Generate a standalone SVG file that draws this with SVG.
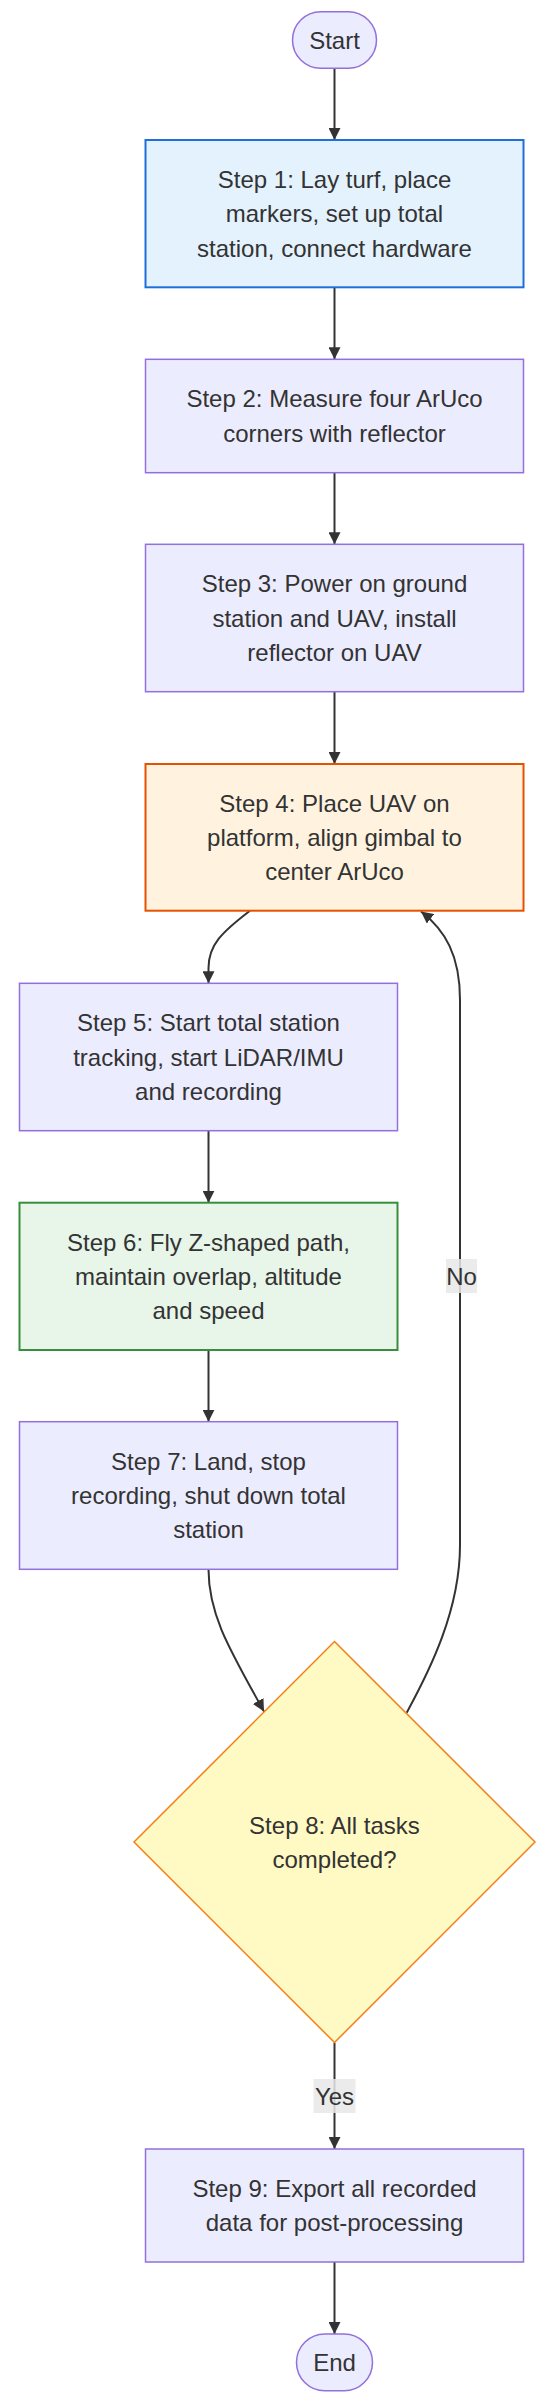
<svg xmlns="http://www.w3.org/2000/svg" width="550" height="2403" viewBox="0 0 550 2403">
<style>
text{font-family:"Liberation Sans",Arial,sans-serif;font-size:24px;fill:#333;text-anchor:middle;dominant-baseline:central}
.def{fill:#ECECFF;stroke:#9370DB;stroke-width:1.5}
.edge{fill:none;stroke:#333;stroke-width:2;marker-end:url(#arr)}
.lbl{fill:#e8e8e8;opacity:0.85}
</style>
<defs>
<marker id="arr" viewBox="0 0 10 10" refX="10" refY="5" markerWidth="12" markerHeight="12" markerUnits="userSpaceOnUse" orient="auto">
<path d="M0,0 L10,5 L0,10 z" fill="#333"/>
</marker>
</defs>
<rect width="550" height="2403" fill="#fff"/>
<g id="connectors">
<path class="edge" d="M334.5,68.3 L334.5,140"/>
<path class="edge" d="M334.5,287.3 L334.5,359.3"/>
<path class="edge" d="M334.5,472.7 L334.5,544.3"/>
<path class="edge" d="M334.5,691.7 L334.5,764"/>
<path class="edge" d="M250,910.7 C222,932 208.5,945 208.5,968 L208.5,983.3"/>
<path class="edge" d="M208.5,1130.7 L208.5,1202.7"/>
<path class="edge" d="M208.5,1350 L208.5,1421.7"/>
<path class="edge" d="M208.5,1569.3 C208.5,1615 230,1650 264,1711.5"/>
<path class="edge" d="M406.7,1712.7 C430,1670 460,1610 460,1545 L460,1000 C460,955 445,930 421,911.5"/>
<path class="edge" d="M334.5,2042.7 L334.5,2149"/>
<path class="edge" d="M334.5,2262 L334.5,2334"/>
<g id="label-no">
<rect class="lbl" x="446" y="1259" width="31" height="34"/>
<text x="461.5" y="1276">No</text>
</g>
<g id="label-yes">
<rect class="lbl" x="313.5" y="2079" width="42" height="34"/>
<text x="334.5" y="2096">Yes</text>
</g>
</g>
<g id="start">
<rect class="def" x="292.5" y="11.7" width="84" height="56.6" rx="28.3"/>
<text x="334.5" y="40">Start</text>
</g>
<g id="step1">
<rect x="145.5" y="140" width="378" height="147.3" fill="#E3F2FD" stroke="#1E6FD9" stroke-width="2"/>
<text x="334.5" y="179.4">Step 1: Lay turf, place</text>
<text x="334.5" y="213.7">markers, set up total</text>
<text x="334.5" y="248">station, connect hardware</text>
</g>
<g id="step2">
<rect class="def" x="145.5" y="359.3" width="378" height="113.4"/>
<text x="334.5" y="398.8">Step 2: Measure four ArUco</text>
<text x="334.5" y="433.2">corners with reflector</text>
</g>
<g id="step3">
<rect class="def" x="145.5" y="544.3" width="378" height="147.4"/>
<text x="334.5" y="583.7">Step 3: Power on ground</text>
<text x="334.5" y="618">station and UAV, install</text>
<text x="334.5" y="652.3">reflector on UAV</text>
</g>
<g id="step4">
<rect x="145.5" y="764" width="378" height="146.7" fill="#FFF3E0" stroke="#E65100" stroke-width="2"/>
<text x="334.5" y="803">Step 4: Place UAV on</text>
<text x="334.5" y="837.3">platform, align gimbal to</text>
<text x="334.5" y="871.6">center ArUco</text>
</g>
<g id="step5">
<rect class="def" x="19.5" y="983.3" width="378" height="147.4"/>
<text x="208.5" y="1022.7">Step 5: Start total station</text>
<text x="208.5" y="1057">tracking, start LiDAR/IMU</text>
<text x="208.5" y="1091.3">and recording</text>
</g>
<g id="step6">
<rect x="19.5" y="1202.7" width="378" height="147.3" fill="#E8F5E9" stroke="#388E3C" stroke-width="2"/>
<text x="208.5" y="1242">Step 6: Fly Z-shaped path,</text>
<text x="208.5" y="1276.3">maintain overlap, altitude</text>
<text x="208.5" y="1310.6">and speed</text>
</g>
<g id="step7">
<rect class="def" x="19.5" y="1421.7" width="378" height="147.6"/>
<text x="208.5" y="1461.2">Step 7: Land, stop</text>
<text x="208.5" y="1495.5">recording, shut down total</text>
<text x="208.5" y="1529.8">station</text>
</g>
<g id="step8">
<polygon points="334.5,1641.5 535,1842 334.5,2042.5 134,1842" fill="#FFF9C4" stroke="#F57F17" stroke-width="1.5"/>
<text x="334.5" y="1825">Step 8: All tasks</text>
<text x="334.5" y="1859.3">completed?</text>
</g>
<g id="step9">
<rect class="def" x="145.5" y="2149" width="378" height="113"/>
<text x="334.5" y="2188.3">Step 9: Export all recorded</text>
<text x="334.5" y="2222.7">data for post-processing</text>
</g>
<g id="end">
<rect class="def" x="296.5" y="2334" width="76" height="56.7" rx="28.3"/>
<text x="334.5" y="2362.3">End</text>
</g>
</svg>
